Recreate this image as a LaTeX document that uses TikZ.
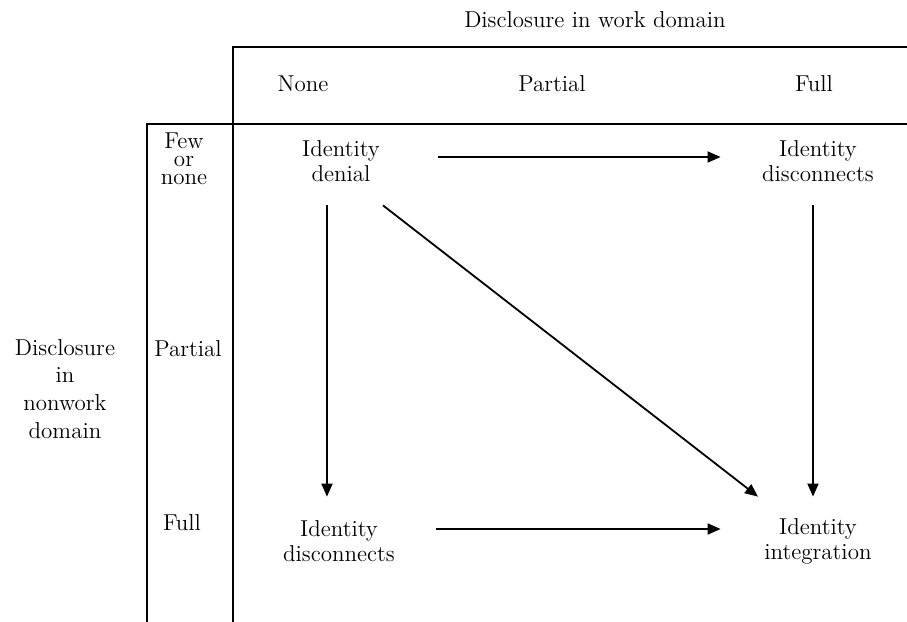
\documentclass[tikz,border=0pt]{standalone}
\usepackage{tikz}
\usetikzlibrary{arrows.meta}

\begin{document}
\begin{tikzpicture}[
    x=0.5pt, y=-0.5pt,
    label/.style={inner sep=0, align=center, font=\fontsize{11.5}{12.5}\selectfont},
    cell/.style={label, minimum width=97pt, minimum height=44pt},
    rule/.style={line width=0.8pt},
    arrow/.style={-{Triangle[length=6.5pt, width=5.5pt]}, line width=0.9pt}
  ]
  \useasboundingbox (0,0) rectangle (907,622);

  % frame of the table
  \draw[rule] (233,622) -- (233,47) -- (907,47);
  \draw[rule] (147,622) -- (147,124) -- (907,124);

  % column headings
  \node[label, anchor=base] (work) at (595,27) {Disclosure in work domain};
  \node[label, anchor=base] (wnone) at (303,91) {None};
  \node[label, anchor=base] (wpartial) at (552,91) {Partial};
  \node[label, anchor=base] (wfull) at (814,91) {Full};

  % row headings
  \node[label, anchor=north, font=\fontsize{11.5}{9}\selectfont] (nfew) at (184,132) {Few\\or\\none};
  \node[label, anchor=base] (npartial) at (188,356) {Partial};
  \node[label, anchor=base] (nfull) at (182,530) {Full};
  \node[label, anchor=north, font=\fontsize{11.5}{13.8}\selectfont] (nonwork) at (65,339) {Disclosure\\in\\nonwork\\domain};

  % the four states
  \node[cell] (denial) at (341,161) {Identity\\denial};
  \node[cell] (discA) at (818,161) {Identity\\disconnects};
  \node[cell] (discB) at (339,541) {Identity\\disconnects};
  \node[cell] (integ) at (818,541) {Identity\\integration};

  \draw[arrow] ([yshift=2pt]denial.east) -- ([yshift=2pt]discA.west);
  \draw[arrow] ([xshift=-7pt]denial.south) -- ([xshift=-6pt]discB.north);
  \draw[arrow] ([xshift=-2.5pt]discA.south) -- ([xshift=-2.5pt]integ.north);
  \draw[arrow] ([xshift=21pt]denial.south) -- ([xshift=-30pt]integ.north);
  \draw[arrow] ([yshift=6pt]discB.east) -- ([yshift=6pt]integ.west);
\end{tikzpicture}
\end{document}
